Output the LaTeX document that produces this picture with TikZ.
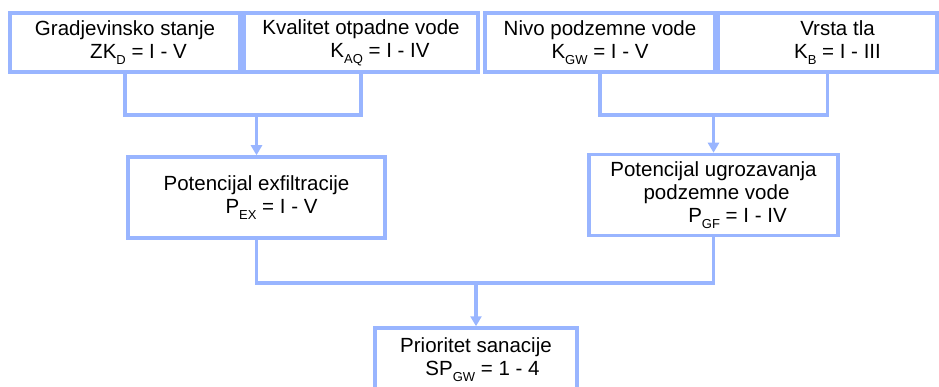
\documentclass[tikz,border=0pt]{standalone}
\usepackage{fontspec}
\setmainfont{Liberation Sans}
\usetikzlibrary{arrows.meta,positioning}
\definecolor{FlowBlue}{RGB}{153,181,255}
\newcommand{\subidx}[1]{\raisebox{-0.28em}{\fontsize{13}{13}\selectfont #1}}

\begin{document}
\begin{tikzpicture}[x=1pt,y=-1pt,>={Triangle[length=10pt,width=11pt]},
    box/.style={draw=FlowBlue,line width=3.5pt,inner sep=0pt,align=center,
      font=\fontsize{20.5}{23}\selectfont},
    link/.style={draw=FlowBlue,line width=3.5pt}]
      \useasboundingbox (0,0) rectangle (939,387);
      \clip (0,0) rectangle (939,387);
      % top row
      \node[box,minimum width=230pt,minimum height=59pt] (gs) at (125,42.5)
        {Gradjevinsko stanje\\\hspace*{27pt}ZK\subidx{D} = I - V};
      \node[box,minimum width=234pt,minimum height=59pt] (kq) at (361,42.5)
        {Kvalitet otpadne vode\\\hspace*{38pt}K\subidx{AQ} = I - IV};
      \node[box,minimum width=230pt,minimum height=59pt] (ng) at (600,42.5)
        {Nivo podzemne vode\\K\subidx{GW} = I - V};
      \node[box,minimum width=219pt,minimum height=59pt] (vt) at (827.5,42.5)
        {\hspace*{20pt}Vrsta tla\\\hspace*{20pt}K\subidx{B} = I - III};
      % middle row
      \node[box,minimum width=257pt,minimum height=81pt] (pex) at (256.5,197.5)
        {Potencijal exfiltracije\\\hspace*{30pt}P\subidx{EX} = I - V};
      \node[box,minimum width=249pt,minimum height=81pt] (pgf) at (713.5,195)
        {Potencijal ugrozavanja\\\hspace*{6pt}podzemne vode\\\hspace*{48pt}P\subidx{GF} = I - IV};
      % bottom
      \node[box,minimum width=202pt,minimum height=64pt] (sp) at (476,360)
        {Prioritet sanacije\\\hspace*{13pt}SP\subidx{GW} = 1 - 4};
      \coordinate (barA) at (0,115);
      \coordinate (barB) at (0,283);
      \draw[link] (gs.south) -- (gs.south |- barA) -- (kq.south |- barA) -- (kq.south);
      \draw[link,->] (pex.north |- barA) -- (pex.north);
      \draw[link] (ng.south) -- (ng.south |- barA) -- (vt.south |- barA) -- (vt.south);
      \draw[link,->] (pgf.north |- barA) -- (pgf.north);
      \draw[link] (pex.south) -- (pex.south |- barB) -- (pgf.south |- barB) -- (pgf.south);
      \draw[link,->] (sp.north |- barB) -- (sp.north);
    \end{tikzpicture}
\end{document}
